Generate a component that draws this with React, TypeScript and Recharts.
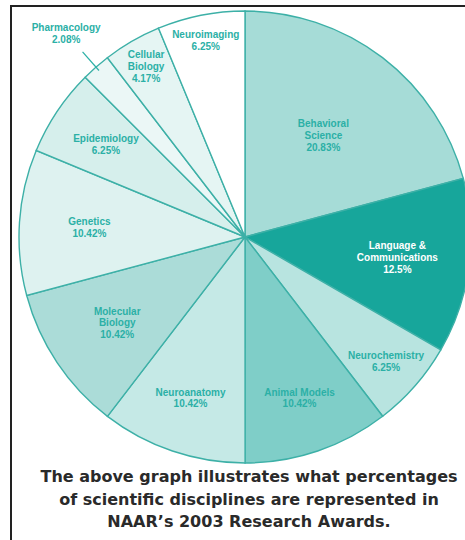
import { PieChart, Pie, Cell } from "recharts";

const disciplines = [
  "Behavioral\nScience",
  "Language &\nCommunications",
  "Neurochemistry",
  "Animal Models",
  "Neuroanatomy",
  "Molecular\nBiology",
  "Genetics",
  "Epidemiology",
  "Pharmacology",
  "Cellular\nBiology",
  "Neuroimaging",
];
const percentages = [20.83, 12.5, 6.25, 10.42, 10.42, 10.42, 10.42, 6.25, 2.08, 4.17, 6.25];

const sliceColors = [
  "#a6dcd7",
  "#17a69b",
  "#b8e4e0",
  "#7fcec8",
  "#c5e9e6",
  "#abdcd8",
  "#def2f0",
  "#d6efec",
  "#ebf7f6",
  "#e5f5f3",
  "#ffffff",
];
// where each label sits, as a share of the radius
const labelRadius = [0.57, 0.68, 0.83, 0.75, 0.75, 0.68, 0.69, 0.74, 1.2, 0.875, 0.89];

const data = disciplines.map((name, i) => ({ name, value: percentages[i] }));

const RADIAN = Math.PI / 180;
const TEAL = "#2bb0a6";

const renderLabel = (props: any) => {
  const { cx, cy, midAngle, outerRadius, index, name, value } = props;
  const r = outerRadius * labelRadius[index];
  const x = cx + r * Math.cos(-midAngle * RADIAN);
  const y = cy + r * Math.sin(-midAngle * RADIAN);
  const lines = [...String(name).split("\n"), `${value}%`];
  const lh = 11.8;
  const top = y - ((lines.length - 1) * lh) / 2;
  const fill = index === 1 ? "#ffffff" : TEAL;
  const outside = labelRadius[index] > 1;
  const a = -midAngle * RADIAN;
  return (
    <g key={`lbl-${index}`}>
      {outside && (
        <line
          x1={cx + outerRadius * 0.98 * Math.cos(a)}
          y1={cy + outerRadius * 0.98 * Math.sin(a)}
          x2={cx + outerRadius * 1.09 * Math.cos(a)}
          y2={cy + outerRadius * 1.09 * Math.sin(a)}
          stroke={TEAL}
          strokeWidth={1.2}
        />
      )}
      <text
        x={x}
        y={top}
        fill={fill}
        textAnchor="middle"
        dominantBaseline="central"
        fontFamily="'Liberation Sans', Arial, sans-serif"
        fontWeight="bold"
        fontSize={10}
      >
        {lines.map((l, k) => (
          <tspan key={k} x={x} dy={k === 0 ? 0 : lh}>
            {l}
          </tspan>
        ))}
      </text>
    </g>
  );
};

export default function App() {
  return (
    <div
      style={{
        position: "absolute",
        left: 0,
        top: 0,
        width: 465,
        height: 540,
        background: "#ffffff",
        overflow: "hidden",
      }}
    >
      <div
        style={{
          position: "absolute",
          left: 10,
          top: 5,
          width: 480,
          height: 560,
          border: "2.5px solid #222",
          boxSizing: "border-box",
        }}
      />
      <div style={{ position: "absolute", left: 0, top: 0 }}>
        <PieChart width={465} height={470} margin={{ top: 0, right: 0, bottom: 0, left: 0 }}>
          <Pie
            data={data}
            dataKey="value"
            nameKey="name"
            cx={245}
            cy={237}
            outerRadius={226}
            startAngle={90}
            endAngle={-270}
            stroke="#3db0a7"
            strokeWidth={1.4}
            label={renderLabel}
            labelLine={false}
            isAnimationActive={false}
          >
            {data.map((d, i) => (
              <Cell key={d.name} fill={sliceColors[i]} />
            ))}
          </Pie>
        </PieChart>
      </div>
      <div
        style={{
          position: "absolute",
          left: 16,
          top: 466,
          width: 466,
          textAlign: "center",
          fontFamily: "'DejaVu Sans', sans-serif",
          fontWeight: "bold",
          fontSize: 16,
          lineHeight: "22.5px",
          color: "#2a2a2a",
        }}
      >
        The above graph illustrates what percentages
        <br />
        of scientific disciplines are represented in
        <br />
        NAAR’s 2003 Research Awards.
      </div>
    </div>
  );
}
